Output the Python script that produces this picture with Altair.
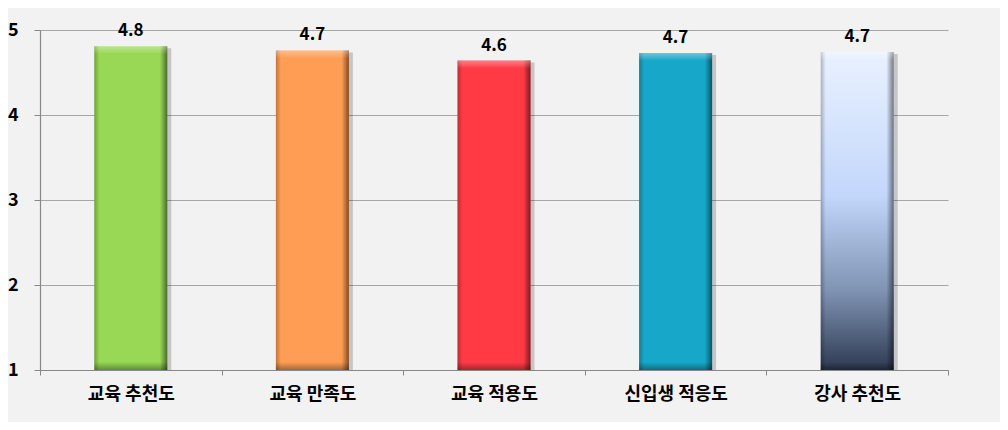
import altair as alt
import pandas as pd

categories = ["교육 추천도", "교육 만족도", "교육 적용도", "신입생 적응도", "강사 추천도"]
values = [4.81, 4.76, 4.64, 4.73, 4.74]
labels = ["4.8", "4.7", "4.6", "4.7", "4.7"]
colors = ["#98D855", "#FF9D55", "#FF3A45", "#17A8C9", "#C5D8FC"]

df = pd.DataFrame({"cat": categories, "val": values, "lab": labels, "base": [1] * 5})

FONT = "Noto Sans CJK KR"
BW = 73

x = alt.X("cat:N", sort=categories, title=None,
          scale=alt.Scale(paddingInner=0, paddingOuter=0),
          axis=alt.Axis(labelAngle=0, labelFont=FONT, labelFontSize=18, labelFontWeight="bold",
                        labelColor="#000", labelPadding=10, tickBand="extent", tickSize=5,
                        tickColor="#888", domainColor="#888", grid=False))
y = alt.Y("val:Q", title=None,
          scale=alt.Scale(domain=[1, 5], nice=False, zero=False),
          axis=alt.Axis(values=[1, 2, 3, 4, 5], format="d", labelFont=FONT, labelFontSize=18,
                        labelFontWeight="bold", labelColor="#000", labelPadding=16, tickSize=6,
                        tickColor="#888", domainColor="#888", gridColor="#a6a6a6"))

base = alt.Chart(df)

shadow = base.mark_bar(width=BW, color="#000", opacity=0.18, xOffset=4, yOffset=2).encode(
    x=x, y=y, y2="base:Q")

main4 = base.transform_filter(alt.datum.cat != categories[4]).mark_bar(width=BW).encode(
    x=x, y=y, y2="base:Q",
    color=alt.Color("cat:N", scale=alt.Scale(domain=categories, range=colors), legend=None))

last = base.transform_filter(alt.datum.cat == categories[4]).mark_bar(
    width=BW,
    color=alt.Gradient(gradient="linear", x1=0, y1=0, x2=0, y2=1,
                       stops=[alt.GradientStop(color="#E9F1FF", offset=0),
                              alt.GradientStop(color="#C3D7FB", offset=0.45),
                              alt.GradientStop(color="#7F93B3", offset=0.75),
                              alt.GradientStop(color="#2E3A52", offset=1)])).encode(
    x=x, y=y, y2="base:Q")

bevel_h = base.mark_bar(
    width=BW,
    color=alt.Gradient(gradient="linear", x1=0, y1=0, x2=1, y2=0,
                       stops=[alt.GradientStop(color="rgba(0,0,0,0.25)", offset=0),
                              alt.GradientStop(color="rgba(0,0,0,0)", offset=0.07),
                              alt.GradientStop(color="rgba(0,0,0,0)", offset=0.9),
                              alt.GradientStop(color="rgba(0,0,0,0.5)", offset=1)])).encode(
    x=x, y=y, y2="base:Q")

bevel_v = base.mark_bar(
    width=BW,
    color=alt.Gradient(gradient="linear", x1=0, y1=0, x2=0, y2=1,
                       stops=[alt.GradientStop(color="rgba(255,255,255,0.35)", offset=0),
                              alt.GradientStop(color="rgba(255,255,255,0)", offset=0.025),
                              alt.GradientStop(color="rgba(0,0,0,0)", offset=0.975),
                              alt.GradientStop(color="rgba(0,0,0,0.35)", offset=1)])).encode(
    x=x, y=y, y2="base:Q")

text = base.mark_text(font=FONT, fontSize=17, fontWeight="bold", color="#000", dy=-15).encode(
    x=x, y=y, text="lab:N")

chart = alt.layer(shadow, main4, last, bevel_h, bevel_v, text).properties(
    width=908, height=340, background="#f2f2f2",
    autosize=alt.AutoSizeParams(type="none"),
    padding={"left": 32, "top": 22, "right": 52, "bottom": 52}
).configure_view(stroke=None).configure_axis(gridWidth=1, domainWidth=1.2)

chart.save("out.html", embed_options={"renderer": "svg", "actions": False})
